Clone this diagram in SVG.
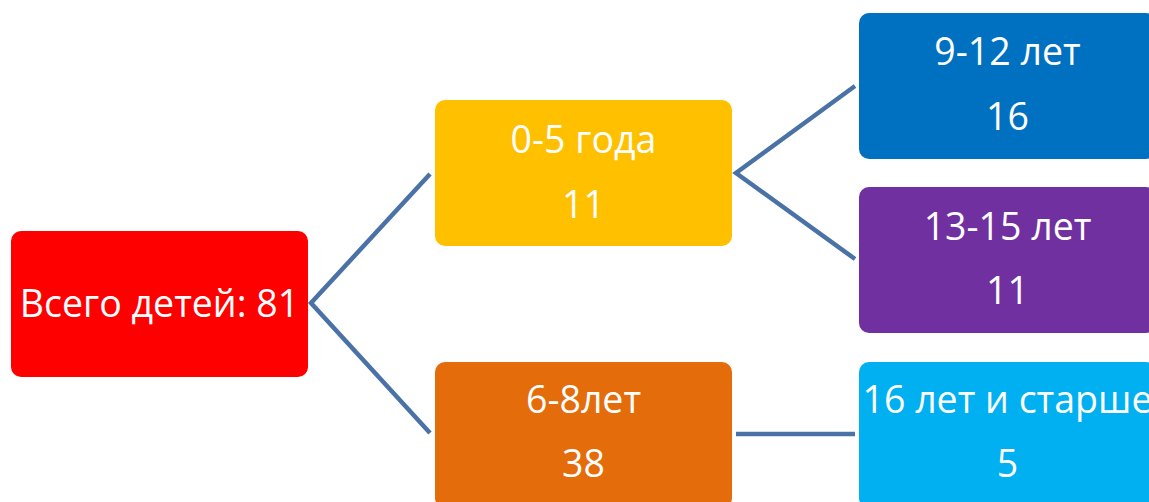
<svg xmlns="http://www.w3.org/2000/svg" width="1149" height="502" viewBox="0 0 1149 502">
<style>
.box{stroke:none}
.t{font-family:"Open Sans","Liberation Sans",sans-serif;font-size:37.5px;fill:#ffffff;text-anchor:middle}
.c{stroke:#4A72A6;stroke-width:4.5;fill:none}
</style>
<rect width="1149" height="502" fill="#ffffff"/>
<g id="connectors">
<path class="c" d="M430,174 L311,303 L430,433"/>
<path class="c" d="M855,86 L736,173 L855,259"/>
<path class="c" d="M736,434 L855,434"/>
</g>
<g id="root">
<rect class="box" x="11" y="231" width="297" height="146" rx="10" fill="#FF0000"/>
<text class="t" x="159.5" y="317">Всего детей: 81</text>
</g>
<g id="age0-5">
<rect class="box" x="435" y="100" width="297" height="146" rx="10" fill="#FFC000"/>
<text class="t" x="583.5" y="153">0-5 года</text>
<text class="t" x="583.5" y="218">11</text>
</g>
<g id="age6-8">
<rect class="box" x="435" y="362" width="297" height="146" rx="10" fill="#E46C0A"/>
<text class="t" x="583.5" y="413">6-8лет</text>
<text class="t" x="583.5" y="477">38</text>
</g>
<g id="age9-12">
<rect class="box" x="859" y="13" width="297" height="146" rx="10" fill="#0070C0"/>
<text class="t" x="1007.5" y="65">9-12 лет</text>
<text class="t" x="1007.5" y="130">16</text>
</g>
<g id="age13-15">
<rect class="box" x="859" y="187" width="297" height="146" rx="10" fill="#7030A0"/>
<text class="t" x="1007.5" y="240">13-15 лет</text>
<text class="t" x="1007.5" y="304">11</text>
</g>
<g id="age16plus">
<rect class="box" x="859" y="362" width="297" height="146" rx="10" fill="#00B0F0"/>
<text class="t" x="1007.5" y="413">16 лет и старше</text>
<text class="t" x="1007.5" y="477">5</text>
</g>
</svg>
